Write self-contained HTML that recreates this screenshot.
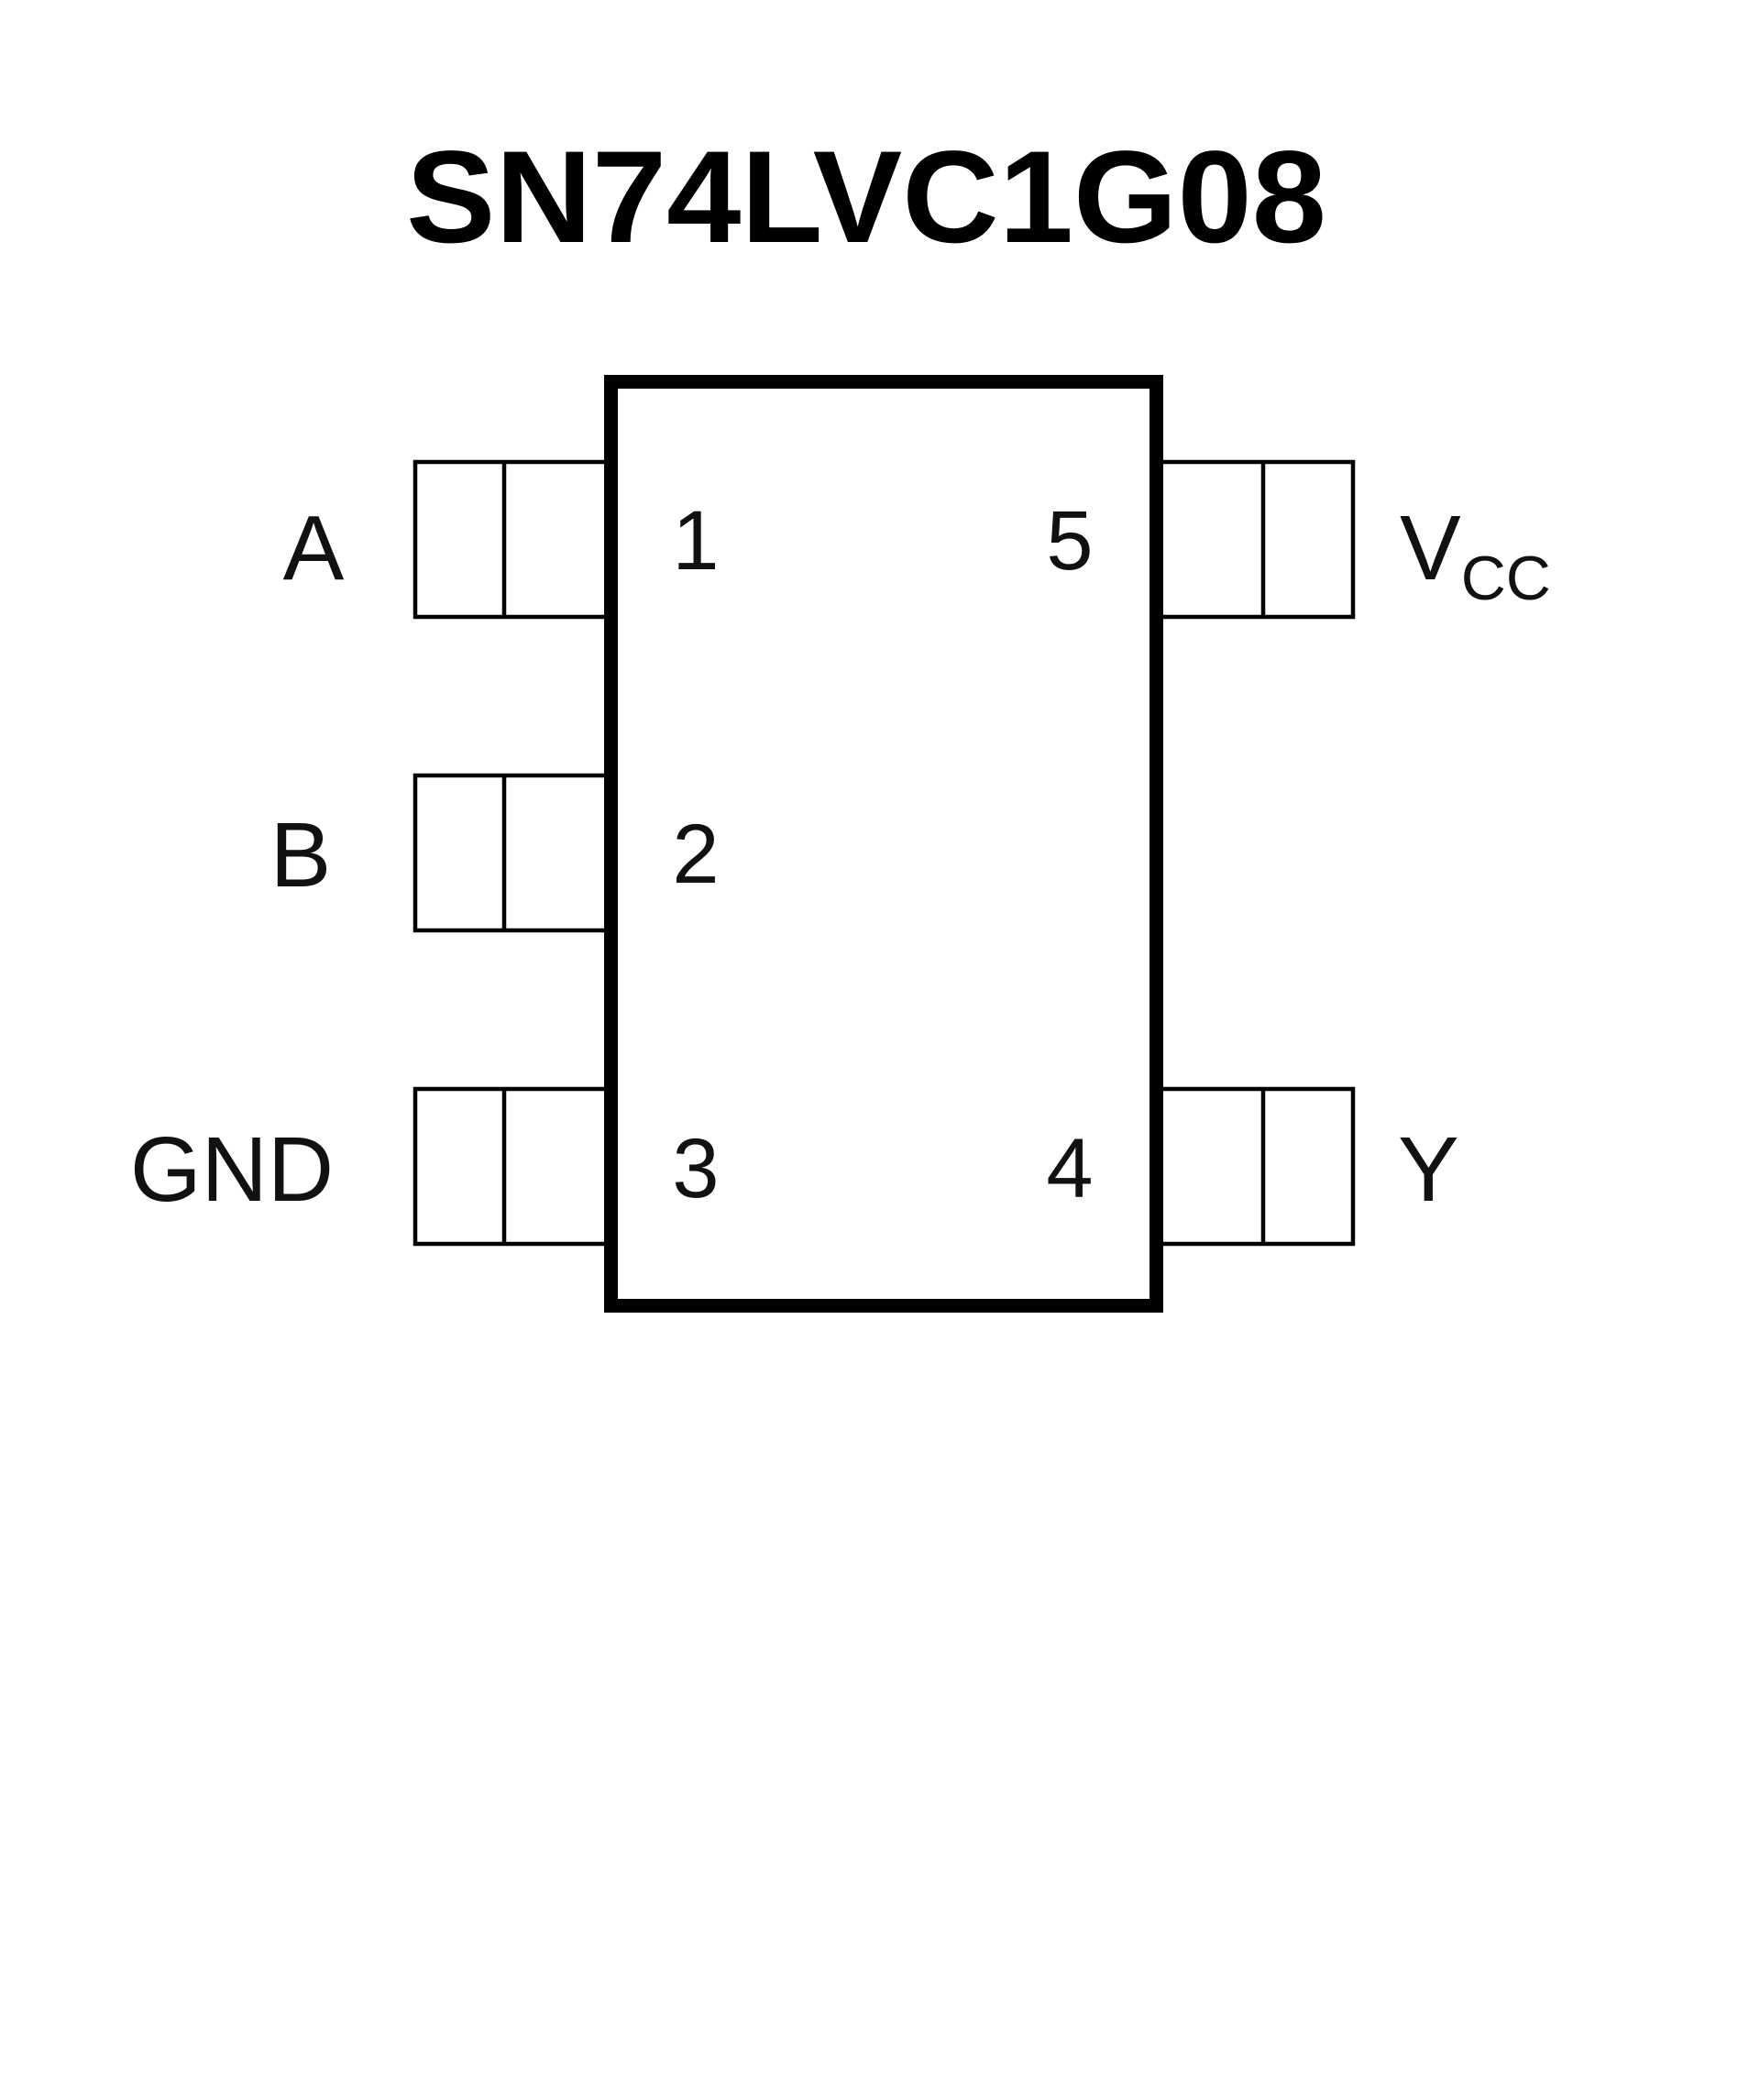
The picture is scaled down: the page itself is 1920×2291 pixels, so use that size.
<!DOCTYPE html>
<html><head><meta charset="utf-8"><style>html,body{margin:0;padding:0;background:#fff}svg{display:block}</style></head>
<body>
<svg width="1920" height="2291" viewBox="0 0 1920 2291" xmlns="http://www.w3.org/2000/svg">
<rect width="1920" height="2291" fill="#fff"/>
<text x="945" y="264" text-anchor="middle" font-family="Liberation Sans, sans-serif" font-weight="bold" font-size="143" textLength="1004" lengthAdjust="spacingAndGlyphs" fill="#000">SN74LVC1G08</text>
<g fill="none" stroke="#000" stroke-width="4.5">
<rect x="453" y="504" width="210" height="169"/><line x1="550" y1="504" x2="550" y2="673"/>
<rect x="453" y="846" width="210" height="169"/><line x1="550" y1="846" x2="550" y2="1015"/>
<rect x="453" y="1188" width="210" height="169"/><line x1="550" y1="1188" x2="550" y2="1357"/>
<rect x="1264" y="504" width="212" height="169"/><line x1="1378" y1="504" x2="1378" y2="673"/>
<rect x="1264" y="1188" width="212" height="169"/><line x1="1378" y1="1188" x2="1378" y2="1357"/>
</g>
<rect x="666.5" y="416.5" width="595" height="1008" fill="#fff" stroke="#000" stroke-width="15"/>
<g font-family="Liberation Sans, sans-serif" fill="#111" font-size="100">
<text x="342" y="632" text-anchor="middle">A</text>
<text x="328" y="967" text-anchor="middle">B</text>
<text x="253" y="1310" text-anchor="middle">GND</text>
<text x="1527" y="632">V<tspan font-size="68" dy="22">CC</tspan></text>
<text x="1525" y="1310">Y</text>
<g font-size="92" text-anchor="middle">
<text x="759" y="621">1</text>
<text x="759" y="963">2</text>
<text x="759" y="1306">3</text>
<text x="1167" y="621">5</text>
<text x="1167" y="1306">4</text>
</g>
</g>
</svg>
</body></html>
